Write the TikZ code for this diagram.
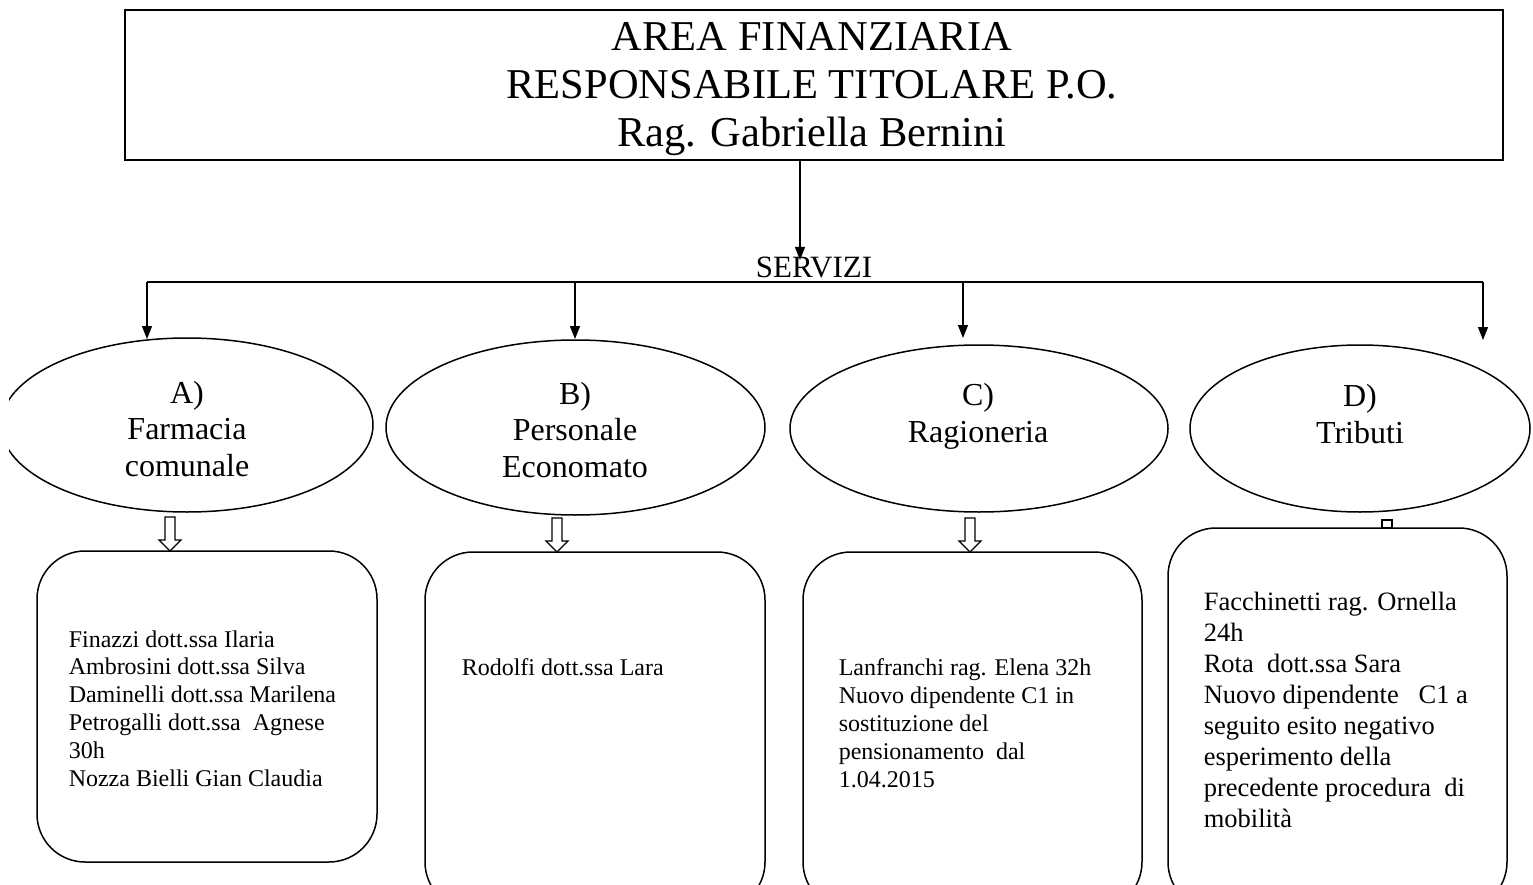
\documentclass[tikz,border=0pt]{standalone}
\usepackage{fontspec}
\setmainfont{Liberation Serif}
\usetikzlibrary{shapes.geometric,arrows.meta}
\begin{document}
\begin{tikzpicture}[x=1pt,y=-1pt,
  line width=1.5pt,
  arr/.style={-{Triangle[length=13pt,width=10pt]}, line width=1.3pt},
  ell/.style={ellipse, draw, inner sep=0pt},
  rbox/.style={draw, rounded corners=48pt, inner sep=0pt},
  etext/.style={font=\fontsize{32}{36.5}\selectfont, align=center, anchor=base, inner sep=0pt},
  btext/.style={font=\fontsize{24}{27.8}\selectfont, align=left, anchor=base west, inner sep=0pt},
  hdown/.pic={\draw[line width=1.3pt, line join=miter] (-5,0) -- (-5,23) -- (-11,23) -- (0,34) -- (11,23) -- (5,23) -- (5,0) -- cycle;}
]
\useasboundingbox (0,0) rectangle (1533,885);
\clip (0,0) rectangle (1533,885);

% top box
\node[draw, minimum width=1378pt, minimum height=150pt, inner sep=0pt] (top) at (814,85) {};
\node[font=\fontsize{42.5}{48}\selectfont, align=center, anchor=base, inner sep=0pt] (toptext) at (812,147)
  {AREA FINANZIARIA\\RESPONSABILE TITOLARE P.O.\\Rag. Gabriella Bernini};

% servizi
\node[font=\fontsize{31}{36}\selectfont, anchor=base, inner sep=0pt] (serv) at (814,277) {SERVIZI};
\coordinate (sv) at (800,260);
\draw[arr] (top.south -| sv) -- (sv);

\coordinate (barL) at (147,282);
\coordinate (barR) at (1483,282);
\draw (barL) -- (barR);
\coordinate (tA) at (147,339);
\coordinate (tB) at (575,339);
\coordinate (tC) at (963,338);
\coordinate (tD) at (1483,340);
\draw[arr] (barL) -- (tA);
\draw[arr] (barL -| tB) -- (tB);
\draw[arr] (barL -| tC) -- (tC);
\draw[arr] (barR) -- (tD);

% ellipses
\begin{scope}
  \clip (9,300) rectangle (420,540);
  \node[ell, minimum width=372pt, minimum height=174pt] (eA) at (187,425) {};
\end{scope}
\node[ell, minimum width=379pt, minimum height=175pt] (eB) at (575.5,427.5) {};
\node[ell, minimum width=378pt, minimum height=167pt] (eC) at (979,428.5) {};
\node[ell, minimum width=340pt, minimum height=167pt] (eD) at (1360,428.5) {};

\node[etext] (lA) at (187,476) {A)\\Farmacia\\comunale};
\node[etext] (lB) at (575,477) {B)\\Personale\\Economato};
\node[etext] (lC) at (978,442) {C)\\Ragioneria};
\node[etext] (lD) at (1360,443) {D)\\Tributi};

% hollow arrows
\pic at (170,517) {hdown};
\pic at (557,518) {hdown};
\pic at (970,518) {hdown};
\draw[line width=1.3pt] (1382,520) rectangle (1392,528);

% boxes
\node[rbox, minimum width=340pt, minimum height=311pt] (bA) at (207,706.5) {};
\node[rbox, minimum width=340pt, minimum height=358pt] (bB) at (595,731) {};
\node[rbox, minimum width=339pt, minimum height=358pt] (bC) at (972.5,731) {};
\node[rbox, minimum width=339pt, minimum height=382pt] (bD) at (1337.5,719) {};

\node[btext] (xA) at (68,786) {Finazzi dott.ssa Ilaria\\Ambrosini dott.ssa Silva\\Daminelli dott.ssa Marilena\\Petrogalli dott.ssa\ \ Agnese\\30h\\Nozza Bielli Gian Claudia};
\node[btext] (xB) at (461,675) {Rodolfi dott.ssa Lara};
\node[btext, font=\fontsize{24}{28}\selectfont] (xC) at (838,787) {Lanfranchi rag. Elena 32h\\Nuovo dipendente C1 in\\sostituzione del\\pensionamento\ \ dal\\1.04.2015};
\node[btext, font=\fontsize{26.5}{31}\selectfont] (xD) at (1203,827) {Facchinetti rag. Ornella\\24h\\Rota\ \ dott.ssa Sara\\Nuovo dipendente\ \ \ C1 a\\seguito esito negativo\\esperimento della\\precedente procedura\ \ di\\mobilità};
\end{tikzpicture}
\end{document}
